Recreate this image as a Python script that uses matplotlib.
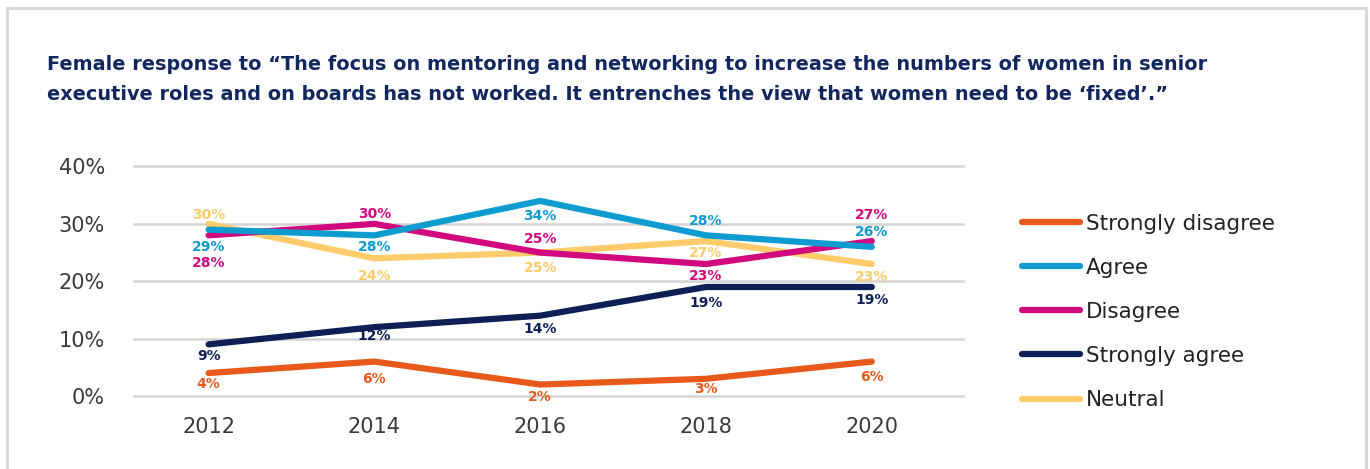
import matplotlib.pyplot as plt
from matplotlib.lines import Line2D

# survey years and share of female respondents (%)
years = [2012, 2014, 2016, 2018, 2020]
strongly_disagree = [4, 6, 2, 3, 6]
agree = [29, 28, 34, 28, 26]
disagree = [28, 30, 25, 23, 27]
strongly_agree = [9, 12, 14, 19, 19]
neutral = [30, 24, 25, 27, 23]

yticks = [0, 10, 20, 30, 40]
title = ("Female response to \u201cThe focus on mentoring and networking to increase the numbers of women in senior\n"
         "executive roles and on boards has not worked. It entrenches the view that women need to be \u2018fixed\u2019.\u201d")

series = [
    ("Strongly disagree", strongly_disagree, "#E85A1B"),
    ("Agree", agree, "#0E9BD0"),
    ("Disagree", disagree, "#D1087E"),
    ("Strongly agree", strongly_agree, "#0D1F55"),
    ("Neutral", neutral, "#FFCB6B"),
]

# vertical nudge of each value label, in pixels (positive = below the line)
label_dy = {
    "Strongly disagree": [11, 17, 12, 10, 15],
    "Agree": [17, 12, 15, -14, -15],
    "Disagree": [28, -10, -14, 12, -26],
    "Strongly agree": [12, 9, 13, 16, 13],
    "Neutral": [-9, 18, 15, 12, 13],
}
# draw order: back to front
draw_order = ["Neutral", "Strongly disagree", "Strongly agree", "Disagree", "Agree"]

plt.rcParams['font.family'] = ['DejaVu Sans']

fig = plt.figure(figsize=(13.7, 4.69), dpi=100)
fig.patch.set_facecolor('white')

# light frame around the panel (open at the bottom)
frame_kw = dict(color='#d9d9d9', linewidth=2.2, transform=fig.transFigure)
fig.add_artist(Line2D([7 / 1370, 7 / 1370], [0, 1 - 8 / 469], **frame_kw))
fig.add_artist(Line2D([7 / 1370, 1366 / 1370], [1 - 8 / 469, 1 - 8 / 469], **frame_kw))
fig.add_artist(Line2D([1366 / 1370, 1366 / 1370], [0, 1 - 8 / 469], **frame_kw))

fig.text(47 / 1370, 1 - 55 / 469, title, ha='left', va='top', fontsize=13.9,
         color='#13275F', fontweight='semibold', linespacing=1.75)

ax = fig.add_axes([134 / 1370, 1 - 396 / 469, (963 - 134) / 1370, (396 - 166.5) / 469])
ax.set_xlim(2011.1, 2021.1)
ax.set_ylim(0, 40)

for y in yticks:
    ax.axhline(y, color='#d4d4d4', linewidth=1.8, zorder=0, clip_on=False)

by_name = {name: (vals, col) for name, vals, col in series}
for name in draw_order:
    vals, col = by_name[name]
    ax.plot(years, vals, color=col, linewidth=4.5, solid_capstyle='round',
            solid_joinstyle='round', clip_on=False, zorder=2)
    for x, v, dy in zip(years, vals, label_dy[name]):
        ax.annotate(f"{v}%", (x, v), xytext=(0, -dy), textcoords='offset pixels',
                    ha='center', va='center', fontsize=10, color=col,
                    fontweight='semibold', zorder=3)

ax.set_yticks(yticks)
ax.set_yticklabels([f"{t}%" for t in yticks])
ax.set_xticks(years)
ax.set_xticklabels([str(y) for y in years])
ax.tick_params(axis='both', length=0, labelsize=15, colors='#3a3a3a')
ax.tick_params(axis='y', pad=21)
ax.tick_params(axis='x', pad=15)
for s in ax.spines.values():
    s.set_visible(False)

handles = [Line2D([], [], color=col, linewidth=4.5, solid_capstyle='round')
           for _, _, col in series]
leg = fig.legend(handles, [name for name, _, _ in series], loc='upper left',
                 bbox_to_anchor=(1013 / 1370, 1 - 205 / 469), frameon=False,
                 fontsize=15.5, handlelength=2.7, handletextpad=0.3,
                 labelspacing=1.12, borderaxespad=0)
for t in leg.get_texts():
    t.set_color('#222222')

fig.savefig('out.png', dpi=100, facecolor='white')
